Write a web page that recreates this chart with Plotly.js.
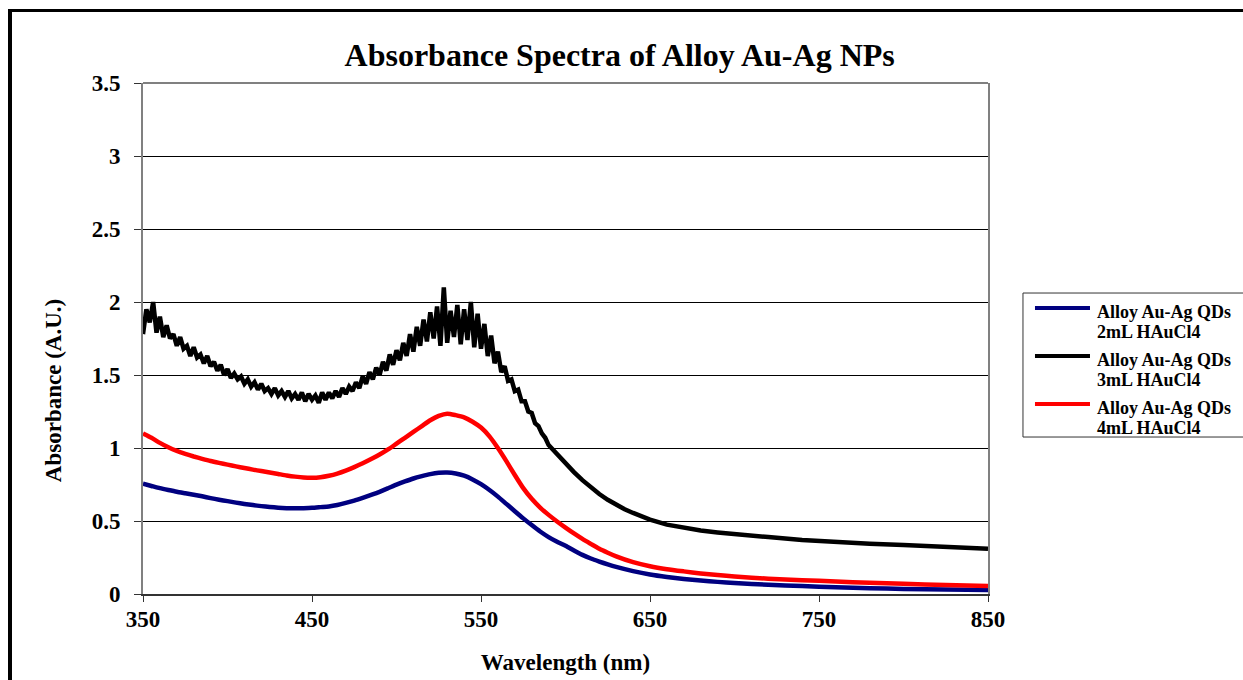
<!DOCTYPE html>
<html>
<head>
<meta charset="utf-8">
<script src="https://cdn.plot.ly/plotly-3.0.1.min.js"></script>
<style>
  html, body { margin: 0; padding: 0; overflow: hidden; background: #fff; }
  #chart { position: absolute; left: 0; top: 0; width: 1243px; height: 680px; }
  #frame { position: absolute; left: 8px; top: 9px; width: 1400px; height: 900px;
           border-top: 3px solid #000; border-left: 4px solid #000; pointer-events: none; }
</style>
</head>
<body>
<div id="chart"></div>
<div id="frame"></div>
<script>
// ---- Data ----
const seriesNames = [
  "Alloy Au-Ag QDs<br>2mL HAuCl4",
  "Alloy Au-Ag QDs<br>3mL HAuCl4",
  "Alloy Au-Ag QDs<br>4mL HAuCl4"
];

// 2 mL (navy)
const wl2 = [350,355,360,365,370,375,380,385,390,395,400,405,410,415,420,425,430,435,440,445,450,455,460,465,470,475,480,485,490,495,500,505,510,515,520,525,530,535,540,545,550,555,560,565,570,575,580,585,590,595,600,605,610,615,620,625,630,640,650,660,670,680,690,700,720,740,760,780,800,825,850];
const abs2 = [0.755,0.74,0.725,0.712,0.70,0.69,0.68,0.669,0.657,0.646,0.636,0.626,0.617,0.609,0.602,0.596,0.591,0.588,0.587,0.588,0.59,0.595,0.60,0.61,0.624,0.64,0.659,0.679,0.70,0.724,0.749,0.771,0.791,0.807,0.821,0.83,0.832,0.825,0.81,0.785,0.752,0.712,0.667,0.617,0.567,0.518,0.472,0.428,0.39,0.358,0.33,0.298,0.268,0.243,0.222,0.203,0.186,0.157,0.134,0.117,0.103,0.092,0.083,0.075,0.063,0.054,0.046,0.04,0.035,0.03,0.027];

// 3 mL (black, noisy)
const wl3 = [350,352,354,356,358,360,362,364,366,368,370,372,374,376,378,380,382,384,386,388,390,392,394,396,398,400,402,404,406,408,410,412,414,416,418,420,422,424,426,428,430,432,434,436,438,440,442,444,446,448,450,452,454,456,458,460,462,464,466,468,470,472,474,476,478,480,482,484,486,488,490,492,494,496,498,500,502,504,506,508,510,512,514,516,518,520,522,524,526,528,530,532,534,536,538,540,542,544,546,548,550,552,554,556,558,560,562,564,566,568,570,572,574,576,578,580,582,584,586,588,590,595,600,605,610,615,620,625,630,635,640,645,650,660,670,680,690,700,720,740,760,780,800,820,840,850];
const abs3 = [1.78,1.95,1.86,2.00,1.79,1.90,1.76,1.84,1.75,1.78,1.70,1.76,1.68,1.70,1.63,1.69,1.62,1.64,1.58,1.63,1.56,1.59,1.53,1.57,1.50,1.54,1.48,1.51,1.47,1.49,1.44,1.47,1.42,1.45,1.40,1.44,1.39,1.41,1.37,1.41,1.36,1.39,1.35,1.39,1.34,1.37,1.33,1.38,1.32,1.37,1.33,1.36,1.31,1.38,1.33,1.38,1.34,1.39,1.35,1.41,1.37,1.42,1.39,1.45,1.41,1.49,1.44,1.52,1.47,1.55,1.50,1.59,1.53,1.64,1.57,1.67,1.60,1.72,1.63,1.78,1.66,1.83,1.70,1.88,1.73,1.93,1.75,1.97,1.70,2.10,1.72,1.94,1.76,1.98,1.71,1.95,1.74,2.00,1.69,1.92,1.68,1.85,1.63,1.77,1.58,1.66,1.52,1.56,1.46,1.47,1.39,1.40,1.32,1.32,1.25,1.24,1.17,1.15,1.10,1.07,1.02,0.955,0.895,0.835,0.78,0.73,0.685,0.645,0.61,0.58,0.555,0.53,0.51,0.475,0.452,0.435,0.422,0.41,0.39,0.37,0.355,0.345,0.335,0.325,0.315,0.31];

// 4 mL (red)
const wl4 = [350,355,360,365,370,375,380,385,390,395,400,405,410,415,420,425,430,435,440,445,450,455,460,465,470,475,480,485,490,495,500,505,510,515,520,525,530,535,540,545,550,555,560,565,570,575,580,585,590,595,600,605,610,615,620,625,630,640,650,660,670,680,690,700,720,740,760,780,800,825,850];
const abs4 = [1.10,1.07,1.035,1.005,0.98,0.96,0.942,0.926,0.911,0.898,0.886,0.874,0.863,0.852,0.842,0.832,0.822,0.812,0.804,0.798,0.796,0.80,0.81,0.825,0.845,0.869,0.895,0.924,0.955,0.99,1.03,1.07,1.11,1.15,1.19,1.22,1.235,1.225,1.21,1.18,1.14,1.08,1.00,0.91,0.815,0.725,0.652,0.592,0.542,0.497,0.455,0.415,0.377,0.343,0.31,0.283,0.258,0.218,0.19,0.17,0.155,0.141,0.13,0.12,0.105,0.095,0.085,0.077,0.07,0.062,0.055];

const lineColors = ["#000080", "#000000", "#ff0000"];
const xTicks = [350, 450, 550, 650, 750, 850];
const yTicks = [0, 0.5, 1, 1.5, 2, 2.5, 3, 3.5];
const yTickText = ["0", "0.5", "1", "1.5", "2", "2.5", "3", "3.5"];

// ---- Plot ----
const FONT = '"Liberation Serif", "Times New Roman", serif';
const wls = [wl2, wl3, wl4];
const absAll = [abs2, abs3, abs4];

const traces = wls.map((w, i) => ({
  x: w, y: absAll[i], type: "scatter", mode: "lines",
  name: seriesNames[i],
  line: i === 1
    ? { color: lineColors[i], width: 4.5 }
    : { color: lineColors[i], width: 4.5, shape: "spline", smoothing: 0.6 },
  showlegend: false
}));

// Manual legend (shapes + annotations) in paper coordinates
const legLineY = [0.5597, 0.4658, 0.3718];
const legTextY = [[0.5519, 0.5127], [0.4579, 0.4188], [0.3640, 0.3249]];
const shapes = [
  { type: "line", xref: "paper", yref: "paper", x0: 0, x1: 1, y0: 1, y1: 1,
    line: { color: "#808080", width: 2 } },
  { type: "rect", xref: "paper", yref: "paper", x0: 1.0414, x1: 1.32, y0: 0.3072, y1: 0.589,
    line: { color: "#333333", width: 1 }, fillcolor: "rgba(0,0,0,0)" }
];
const annotations = [
  { xref: "paper", yref: "paper", x: -0.1065, y: 0.397, text: "Absorbance (A.U.)",
    textangle: -90, showarrow: false, xanchor: "center", yanchor: "middle",
    font: { family: FONT, size: 23, color: "#000", weight: "bold" } }
];
seriesNames.forEach((nm, i) => {
  shapes.push({ type: "line", xref: "paper", yref: "paper", x0: 1.0556, x1: 1.1207,
    y0: legLineY[i], y1: legLineY[i], line: { color: lineColors[i], width: 4 } });
  nm.split("<br>").forEach((part, j) => {
    annotations.push({ xref: "paper", yref: "paper", x: 1.1266, y: legTextY[i][j],
      text: part, showarrow: false, xanchor: "left", yanchor: "middle",
      font: { family: FONT, size: 18, color: "#000", weight: "bold" } });
  });
});

const layout = {
  width: 1243, height: 680,
  margin: { l: 143, r: 255, t: 83, b: 86, pad: 0 },
  paper_bgcolor: "#ffffff", plot_bgcolor: "#ffffff",
  font: { family: FONT, color: "#000" },
  title: {
    text: "Absorbance Spectra of Alloy Au-Ag NPs",
    font: { family: FONT, size: 32, color: "#000", weight: "bold" },
    xref: "container", yref: "container", x: 0.4985, xanchor: "center",
    y: 1 - 55 / 680, yanchor: "middle"
  },
  xaxis: {
    range: [350, 850], tickvals: xTicks, ticktext: xTicks.map(String),
    showgrid: false, zeroline: false,
    showline: true, linecolor: "#333333", linewidth: 2, mirror: false,
    ticks: "outside", ticklen: 6, tickwidth: 1, tickcolor: "#333333",
    tickfont: { family: FONT, size: 23, color: "#000", weight: "bold" },
    ticklabelstandoff: -3,
    title: { text: "Wavelength (nm)", standoff: 23,
      font: { family: FONT, size: 23, color: "#000", weight: "bold" } },
    automargin: false, fixedrange: true
  },
  yaxis: {
    range: [0, 3.5], tickvals: yTicks, ticktext: yTickText,
    showgrid: true, gridcolor: "#000000", gridwidth: 1, zeroline: false,
    showline: true, linecolor: "#808080", linewidth: 2, mirror: true,
    ticks: "outside", ticklen: 7, tickwidth: 1, tickcolor: "#333333",
    tickfont: { family: FONT, size: 23, color: "#000", weight: "bold" },
    ticklabelstandoff: 9,
    automargin: false, fixedrange: true
  },
  shapes: shapes,
  annotations: annotations,
  showlegend: false
};

Plotly.newPlot("chart", traces, layout, { displayModeBar: false, staticPlot: true });
</script>
</body>
</html>
